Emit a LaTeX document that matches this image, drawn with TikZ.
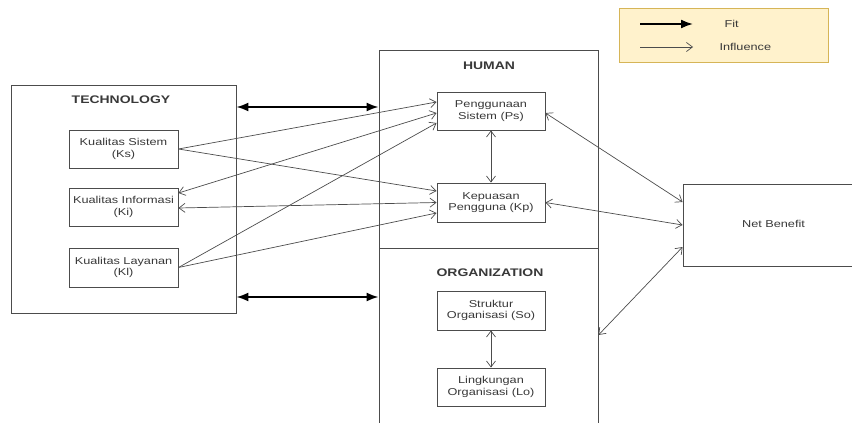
\documentclass[tikz,border=0pt]{standalone}
\usepackage{fontspec}
\setmainfont[FakeStretch=1.27]{Liberation Sans}
\usetikzlibrary{arrows.meta,calc}
\definecolor{LineClr}{rgb}{0.3,0.3,0.3}
\definecolor{TextClr}{rgb}{0.22,0.22,0.22}
\definecolor{LegendFill}{rgb}{1,0.949,0.8}
\definecolor{LegendDraw}{rgb}{0.84,0.71,0.34}

\begin{document}
\begin{tikzpicture}[x=1pt,y=-1pt,
  box/.style={draw=LineClr,line width=0.9pt,text=TextClr,font=\fontsize{10}{11.5}\selectfont,align=center,inner sep=0pt},
  group/.style={draw=LineClr,line width=0.9pt,inner sep=0pt},
  title/.style={text=TextClr,font=\fontsize{11}{13}\selectfont\bfseries},
  fitarrow/.style={{Latex[length=12pt,width=9pt]}-{Latex[length=12pt,width=9pt]},line width=1.8pt,black},
  infl/.style={-{Straight Barb[length=6pt,width=9pt]},line width=0.7pt,LineClr},
  inflboth/.style={{Straight Barb[length=6pt,width=9pt]}-{Straight Barb[length=6pt,width=9pt]},line width=0.7pt,LineClr}]

\useasboundingbox (0,0) rectangle (852,423);
\clip (0,0) rectangle (852,423);

\node[draw=LegendDraw,fill=LegendFill,line width=0.8pt,minimum width=209pt,minimum height=54pt] (Legend) at (723.5,35) {};
\coordinate (fitA) at (640,24);
\coordinate (fitB) at (693,24);
\coordinate (inflA) at (640,47);
\coordinate (inflB) at (693,47);
\draw[-{Latex[length=12pt,width=9pt]},line width=1.8pt,black] (fitA) -- (fitB);
\draw[infl] (inflA) -- (inflB);
\node[text=TextClr,font=\fontsize{10}{12}\selectfont,anchor=west] (FitTxt) at (721,24) {Fit};
\node[text=TextClr,font=\fontsize{10}{12}\selectfont,anchor=west] (InflTxt) at (716,47) {Influence};

\node[group,minimum width=225pt,minimum height=228pt] (Tech) at (123.5,199) {};
\node[group,minimum width=219pt,minimum height=198pt] (Human) at (488.5,149) {};
\node[group,minimum width=219pt,minimum height=192pt] (Org) at (488.5,344) {};
\node[title] (TechTtl) at (121,100) {TECHNOLOGY};
\node[title] (HumanTtl) at (489,66) {HUMAN};
\node[title] (OrgTtl) at (490,273) {ORGANIZATION};

\node[box,minimum width=109pt,minimum height=38pt] (Ks) at (123.5,149) {Kualitas Sistem\\(Ks)};
\node[box,minimum width=109pt,minimum height=38pt] (Ki) at (123.5,207) {Kualitas Informasi\\(Ki)};
\node[box,minimum width=109pt,minimum height=39pt] (Kl) at (123.5,267.5) {Kualitas Layanan\\(Kl)};

\node[box,minimum width=108pt,minimum height=38pt] (Ps) at (491,111) {Penggunaan\\Sistem (Ps)};
\node[box,minimum width=108pt,minimum height=39pt] (Kp) at (491,202.5) {Kepuasan\\Pengguna (Kp)};
\node[box,minimum width=108pt,minimum height=39pt] (So) at (491,310.5) {Struktur\\Organisasi (So)};
\node[box,minimum width=108pt,minimum height=38pt] (Lo) at (491,387) {Lingkungan\\Organisasi (Lo)};

\node[box,minimum width=197pt,minimum height=82pt] (NB) at (781.5,225) {};
\node[text=TextClr,font=\fontsize{10}{12}\selectfont] (NBTxt) at (773.5,224) {Net Benefit};

\coordinate (fitTop) at (0,107);
\coordinate (fitBot) at (0,297);
\draw[fitarrow] (Tech.east |- fitTop) -- (Human.west |- fitTop);
\draw[fitarrow] (Tech.east |- fitBot) -- (Org.west |- fitBot);

\draw[infl] (Ks.east) -- ([yshift=9pt]Ps.west);
\draw[infl] (Ks.east) -- ([yshift=11.5pt]Kp.west);
\draw[inflboth] ([yshift=-2pt]Ps.west) -- ([yshift=14pt]Ki.east);
\draw[inflboth] (Kp.west) -- ([yshift=-1pt]Ki.east);
\draw[infl] (Kl.east) -- ([yshift=-12pt]Ps.west);
\draw[infl] (Kl.east) -- ([yshift=-10.5pt]Kp.west);

\draw[inflboth] (Ps.south) -- (Kp.north);
\draw[inflboth] (So.south) -- (Lo.north);

\draw[inflboth] ([yshift=-2pt]Ps.east) -- ([yshift=23pt]NB.west);
\draw[inflboth] (Kp.east) -- (NB.west);
\draw[inflboth] ([yshift=9pt]Org.east) -- ([yshift=-22pt]NB.west);

\end{tikzpicture}
\end{document}
